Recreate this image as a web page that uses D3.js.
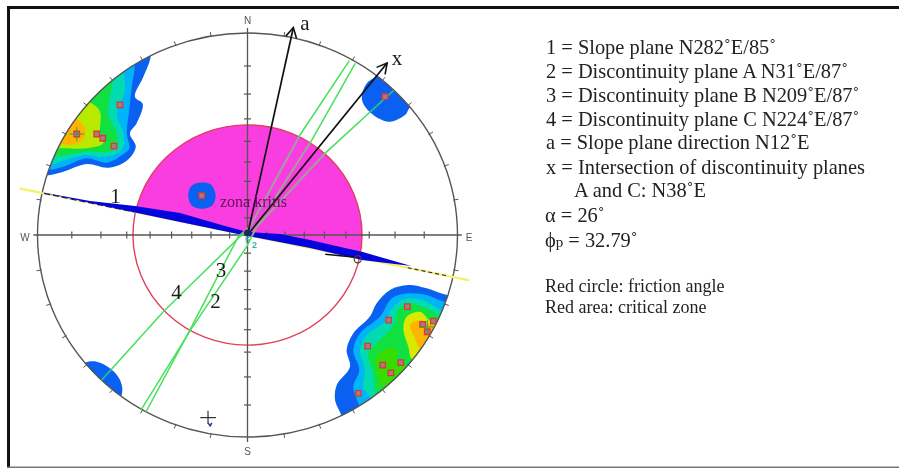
<html>

<head>
    <style>
        body { margin: 0; background: white; }
        svg { filter: blur(0.45px); }
        text { font-family: "Liberation Serif", serif; fill: #222; }
    </style>
</head>

<body>
    <svg id="chart" width="899" height="468"></svg>
</body>
<script src="https://d3js.org/d3.v7.min.js"></script>
<script>
    // All net coordinates are [east, north] in percent of the net radius
    const tickDips = [10, 20, 30, 40, 50, 60, 70, 80]
    const rimAzimuths = [10, 20, 30, 40, 50, 60, 70, 80, 100, 110, 120, 130, 140, 150, 160, 170,
        190, 200, 210, 220, 230, 240, 250, 260, 280, 290, 300, 310, 320, 330, 340, 350]
    const compass = ["N", "E", "S", "W"]

    const slopeStrike = 282
    const frictionAngle = 32.79
    const directions = [
        { name: "a", azimuth: 12, length: 105 },
        { name: "x", azimuth: 38, length: 108 }
    ]

    // discontinuity planes, slightly curved great circles
    const planeA = [[51.3, 85], [30.6, 47], [4.4, 4.1], [-0.4, -5.8], [-26.6, -46.2], [-50.7, -86.6]]
    const planeB = [[48.5, 86.3], [25, 49.5], [1.2, 4.1], [-4.4, -0.8], [-27.4, -47], [-48.3, -87.5]]
    const planeC = [[69.4, 71.4], [36.9, 40.4], [4.4, 4.1], [-3.6, -0.8], [-40.1, -38], [-69.4, -71.8]]

    const slopeWedge = [[-98.8, 21.3], [-75, 16.8], [-53.6, 14.4], [-32.1, 10.9], [-10.7, 4.5], [0, 1.5],
        [15.5, 0.5], [29.8, -2.5], [46.4, -6.4], [54.5, -8.3], [78, -15.4], [54.5, -12.4], [29.8, -6.4], [0, -0.5],
        [-32.1, 6.4], [-53.6, 11.1]]

    // density contours, north west cluster
    const nwBlue = [[-46.1, 88.3], [-49.6, 78.4], [-53.6, 68.5], [-49.9, 64.9], [-52.8, 55.3], [-56, 50.3], [-53.2, 43.7],
        [-57.5, 36.8], [-66.3, 33.3], [-76.6, 35.1], [-87.7, 31.3], [-96, 29.4], [-112, 30], [-112, 100], [-46, 105]]
    const nwSky = [[-53.6, 84.2], [-55.1, 73.4], [-56.3, 61.9], [-57.5, 50.3], [-56.3, 42.9], [-60.7, 38.8], [-67, 35.8],
        [-76.6, 38], [-87.7, 33.8], [-94.9, 32.2], [-112, 32], [-112, 100], [-54, 100]]
    const nwTeal = [[-59.1, 80.8], [-58.3, 71.8], [-62.3, 60.2], [-59.1, 50.3], [-59.1, 43.7], [-63.9, 39.6], [-70.2, 38.8],
        [-78.2, 39.6], [-89.3, 36.3], [-94, 34.7], [-112, 34], [-112, 100], [-59, 95]]
    const nwGreen = [[-63.9, 78], [-65.5, 68.5], [-66.3, 60.2], [-62.3, 50.3], [-62.3, 43.7], [-66.3, 41.2], [-76.6, 41.2],
        [-90.9, 38.8], [-112, 37], [-112, 95], [-64, 90]]
    const nwLime = [[-74.2, 65.2], [-70.2, 61], [-70.2, 50.3], [-68.7, 45.4], [-76.6, 42.9], [-89.3, 42.9], [-105, 42], [-95, 72]]
    const nwOrange = [[-80.6, 56.9], [-77.4, 52.8], [-78.2, 47], [-84.5, 44.6], [-90.1, 45.4], [-102, 48], [-92, 62]]
    const nwPoles = [[-60.7, 64.4], [-81.3, 50], [-71.8, 50], [-68.9, 47.9], [-63.6, 44]]

    // north east cluster
    const neBlue = [[61.2, 78.7], [56.8, 75.1], [54.4, 68.5], [56, 63.5], [62.3, 57.8], [67.9, 56.1], [75, 59.4], [77.7, 63.5], [92, 72], [72, 92]]
    const nePoles = [[65.5, 68.5]]

    // south east cluster
    const seBlue = [[95.1, -29.7], [85.3, -26.4], [76.6, -24.8], [67.9, -27.2], [61.5, -33.8], [58.3, -40.4], [50.4, -48.7],
        [47.2, -56.9], [48.8, -65.2], [42.5, -74.3], [41.7, -81.7], [44.4, -88.6], [52, -110], [112, -65], [112, -30]]
    const seSky = [[94, -33], [85.3, -29.7], [75.8, -28.9], [68.7, -31.3], [63.1, -40.4], [53.6, -48.7], [50.4, -56.9],
        [53.2, -66.8], [50.4, -75.1], [52.8, -83.3], [62, -105], [112, -65], [112, -33]]
    const seTeal = [[92.5, -37.1], [85.3, -33], [76.6, -31.3], [70.2, -34.7], [65.5, -42.9], [56.8, -49.5], [53.6, -56.9],
        [56, -66.8], [55.1, -75.1], [58.3, -80], [70, -100], [112, -65], [112, -37]]
    const seGreen = [[91.7, -39.6], [85.3, -36.3], [76.6, -33.8], [71.8, -37.1], [69.4, -44.6], [63.1, -52], [57.5, -58.6],
        [59.9, -68.5], [60.7, -76.7], [70, -95], [112, -65], [112, -40]]
    const seLime = [[67, -56.1], [61.5, -60.2], [62.3, -70.1], [64.7, -75.9], [75, -82], [82, -70], [71, -61.9], [71, -56.9]]
    const seYellow = [[87.7, -42.9], [82.1, -38], [75.8, -40.4], [74.2, -46.2], [76.6, -55.3], [78.7, -61.9], [102, -62], [104, -45]]
    const seOrange = [[87.7, -44.6], [82.1, -42.1], [77.4, -44.6], [79.8, -51.1], [82.1, -56.1], [102, -57], [104, -46]]
    const sePoles = [[76.1, -35.5], [67.2, -42.1], [57.2, -55], [64.4, -64.4], [73, -63.2], [68.3, -68.3], [52.8, -78.4],
        [83.4, -44.2], [88.5, -42.6], [85.6, -47.9]]

    // south west cluster and the small one inside the critical zone
    const swBlue = [[-77.4, -63.2], [-71.8, -62.7], [-65.5, -66], [-60.7, -71.8], [-59.9, -79.2], [-70, -92], [-92, -72]]
    const midBlue = [[-28.2, 20], [-26.5, 24.5], [-22, 26], [-17.5, 25], [-15.2, 20], [-16.5, 15], [-21.5, 13], [-26.5, 14.5]]
    const midPoles = [[-21.8, 19.5]]

    const legendLines = [
        "1 = Slope plane N282˚E/85˚",
        "2 = Discontinuity plane A N31˚E/87˚",
        "3 = Discontinuity plane B N209˚E/87˚",
        "4 = Discontinuity plane C N224˚E/87˚",
        "a = Slope plane direction N12˚E",
        "x = Intersection of discontinuity planes"
    ]
    const legendNotes = ["Red circle: friction angle", "Red area: critical zone"]

    let svg = d3.select("#chart")

    // The picture is slightly stretched, so x and y get their own range
    let x = d3.scaleLinear().domain([-100, 100]).range([37.5, 457.5])
    let y = d3.scaleLinear().domain([-100, 100]).range([437, 33])

    let polar = (azimuth, r) => [r * Math.sin(azimuth * Math.PI / 180), r * Math.cos(azimuth * Math.PI / 180)]
    // stereographic radius of an angle measured from the centre
    let stereo = a => 100 * Math.tan(a * Math.PI / 360)

    let line = d3.line().x(d => x(d[0])).y(d => y(d[1]))
    let blob = d3.line().x(d => x(d[0])).y(d => y(d[1])).curve(d3.curveCatmullRomClosed.alpha(0.5))

    // page frame
    svg.append("rect").attr("x", 7).attr("y", 6).attr("width", 3).attr("height", 462).attr("fill", "#111")
    svg.append("rect").attr("x", 7).attr("y", 6).attr("width", 892).attr("height", 3).attr("fill", "#111")
    svg.append("rect").attr("x", 7).attr("y", 466.5).attr("width", 892).attr("height", 1.5).attr("fill", "#777")

    let defs = svg.append("defs")
    defs.append("clipPath").attr("id", "net-clip").append("ellipse")
        .attr("cx", x(0)).attr("cy", y(0))
        .attr("rx", x(100) - x(0)).attr("ry", y(0) - y(100))

    let frictionRadius = stereo(90 - frictionAngle)
    let zoneOutline = d3.range(slopeStrike, slopeStrike + 181, 3).map(a => polar(a, frictionRadius))
    defs.append("clipPath").attr("id", "zone-clip").append("path")
        .attr("d", line(zoneOutline) + "Z")
    let blobClip = defs.append("clipPath").attr("id", "blob-clip")
    blobClip.append("path").attr("d", blob(neBlue))
    blobClip.append("path").attr("d", blob(swBlue))

    // critical zone and friction circle
    svg.append("path").attr("d", line(zoneOutline) + "Z").attr("fill", "#fa3de0")
    svg.append("ellipse")
        .attr("cx", x(0)).attr("cy", y(0))
        .attr("rx", x(frictionRadius) - x(0)).attr("ry", y(0) - y(frictionRadius))
        .attr("fill", "none").attr("stroke", "#e0405c").attr("stroke-width", 1.4)

    // contours, outermost first
    const contours = [
        [nwBlue, "#0a60f0"], [nwSky, "#00b4f8"], [nwTeal, "#00dcb0"], [nwGreen, "#10e040"], [nwLime, "#b8ea00"], [nwOrange, "#ffb400"],
        [neBlue, "#0a60f0"],
        [seBlue, "#0a60f0"], [seSky, "#00b4f8"], [seTeal, "#00dcb0"], [seGreen, "#10e040"], [seLime, "#38dc00"], [seYellow, "#d8e800"], [seOrange, "#ffb400"],
        [swBlue, "#0a60f0"], [midBlue, "#0a60f0"]
    ]
    svg.append("g").attr("clip-path", "url(#net-clip)")
        .selectAll("path")
        .data(contours)
        .enter()
        .append("path")
        .attr("d", d => blob(d[0]))
        .attr("fill", d => d[1])

    // net axes with their dip ticks
    let tickRadii = tickDips.map(stereo).flatMap(r => [-r, r])
    let xAxis = d3.axisBottom(x).tickValues(tickRadii).tickFormat("").tickSize(3).tickSizeOuter(0)
    let yAxis = d3.axisLeft(y).tickValues(tickRadii).tickFormat("").tickSize(3).tickSizeOuter(0)
    let xAxisG = svg.append("g").attr("transform", `translate(0,${y(0)})`).call(xAxis)
    xAxisG.selectAll(".tick line").attr("y1", -3.5).attr("y2", 3.5)
    let yAxisG = svg.append("g").attr("transform", `translate(${x(0)},0)`).call(yAxis)
    yAxisG.selectAll(".tick line").attr("x1", -3.5).attr("x2", 3.5)
    svg.selectAll(".domain").remove()
    svg.selectAll(".tick line").attr("stroke", "#555").attr("stroke-width", 1.2)

    let crossLines = [[[-102, 0], [102, 0]], [[0, -102.5], [0, 102.5]]]
    svg.append("g").selectAll("path")
        .data(crossLines)
        .enter()
        .append("path")
        .attr("d", line)
        .attr("stroke", "#555").attr("stroke-width", 1.3)

    // rim of the net
    svg.append("ellipse")
        .attr("cx", x(0)).attr("cy", y(0))
        .attr("rx", x(100) - x(0)).attr("ry", y(0) - y(100))
        .attr("fill", "none").attr("stroke", "#555").attr("stroke-width", 1.4)
    svg.append("g").selectAll("path")
        .data(rimAzimuths)
        .enter()
        .append("path")
        .attr("d", d => line([polar(d, 99.5), polar(d, 102)]))
        .attr("stroke", "#555").attr("stroke-width", 1)

    const compassAnchor = { N: [0, 106], E: [105.5, -1.5], S: [0, -107.5], W: [-106, -1.5] }
    svg.append("g").selectAll("text")
        .data(compass)
        .enter()
        .append("text")
        .attr("x", d => x(compassAnchor[d][0]))
        .attr("y", d => y(compassAnchor[d][1]))
        .attr("text-anchor", "middle")
        .attr("dominant-baseline", "middle")
        .style("font-family", "'Liberation Sans', sans-serif")
        .style("font-size", "10px")
        .style("fill", "#555")
        .text(d => d)

    // slope plane: pale trace, then the blue wedge on top
    svg.append("path")
        .attr("d", line([polar(slopeStrike, 111), polar(slopeStrike + 180, 108)]))
        .attr("stroke", "#f6f070").attr("stroke-width", 2.4).attr("fill", "none")
    svg.append("path")
        .attr("d", line([polar(slopeStrike, 99), polar(slopeStrike, 55)]))
        .attr("stroke", "#10108c").attr("stroke-width", 1.3).attr("stroke-dasharray", "6,3")
    svg.append("path")
        .attr("d", line([polar(slopeStrike + 180, 78), polar(slopeStrike + 180, 98)]))
        .attr("stroke", "#222266").attr("stroke-width", 1.1).attr("stroke-dasharray", "4,3")
    svg.append("path").attr("d", line(slopeWedge) + "Z").attr("fill", "#0404dc")

    // planes, grey where they run over the critical zone, teal over the blue clusters
    let planes = [planeA, planeB, planeC]
    svg.append("g").selectAll("path")
        .data(planes)
        .enter()
        .append("path")
        .attr("d", line)
        .attr("fill", "none").attr("stroke", "#46e05a").attr("stroke-width", 1.5)
    svg.append("g").attr("clip-path", "url(#zone-clip)").selectAll("path")
        .data(planes)
        .enter()
        .append("path")
        .attr("d", line)
        .attr("fill", "none").attr("stroke", "#a89aa0").attr("stroke-width", 1.8)
    svg.append("g").attr("clip-path", "url(#blob-clip)").selectAll("path")
        .data(planes)
        .enter()
        .append("path")
        .attr("d", line)
        .attr("fill", "none").attr("stroke", "#20b0b0").attr("stroke-width", 1.5)

    // poles
    let poles = nwPoles.concat(nePoles, sePoles, midPoles)
    svg.append("g").selectAll("path")
        .data(poles)
        .enter()
        .append("path")
        .attr("transform", d => `translate(${x(d[0])},${y(d[1])})`)
        .attr("d", d3.symbol(d3.symbolSquare, 30))
        .attr("fill", "#a87c7c").attr("stroke", "#d83a3a").attr("stroke-width", 1.3)

    // small pole marks
    const poleMarks = [[-81.3, 50], [85.6, -45.5]]
    svg.append("g").selectAll("path")
        .data(poleMarks)
        .enter()
        .append("path")
        .attr("d", d => `M${x(d[0] - 3.5)},${y(d[1])}H${x(d[0] + 3.5)}M${x(d[0])},${y(d[1] + 3.5)}V${y(d[1] - 3.5)}`)
        .attr("stroke", "#3a9a50").attr("stroke-width", 1).attr("fill", "none")

    // direction arrows
    defs.append("marker").attr("id", "open-arrow")
        .attr("viewBox", "-12 -7 14 14").attr("refX", 0).attr("refY", 0)
        .attr("markerWidth", 14).attr("markerHeight", 14)
        .attr("markerUnits", "userSpaceOnUse").attr("orient", "auto")
        .append("path").attr("d", "M-10,-5.5L0,0L-10,5.5")
        .attr("fill", "none").attr("stroke", "#111").attr("stroke-width", 1.6)
    svg.append("g").selectAll("path")
        .data(directions)
        .enter()
        .append("path")
        .attr("d", d => line([[0, 0], polar(d.azimuth, d.length)]))
        .attr("stroke", "#111").attr("stroke-width", 1.7).attr("fill", "none")
        .attr("marker-end", "url(#open-arrow)")

    // centre of the net
    svg.append("circle").attr("cx", x(0)).attr("cy", y(1)).attr("r", 3.5).attr("fill", "#10305a")

    // angle marker next to the slope trace
    svg.append("path").attr("d", line([[37, -9.5], [51.5, -11]])).attr("stroke", "#111").attr("stroke-width", 1.4)
    svg.append("circle").attr("cx", x(52.5)).attr("cy", y(-12)).attr("r", 3.6)
        .attr("fill", "none").attr("stroke", "#5a3a20").attr("stroke-width", 1.2)

    // stray cross in the lower part of the net
    svg.append("path").attr("d", line([[-22.5, -90.4], [-15, -90.4]])).attr("stroke", "#333").attr("stroke-width", 1.2)
    svg.append("path").attr("d", line([[-18.8, -87], [-18.8, -93.5]])).attr("stroke", "#333").attr("stroke-width", 1.2)
    svg.append("path").attr("d", line([[-18.8, -93], [-17.8, -94.5], [-17, -93]])).attr("stroke", "#223399").attr("stroke-width", 1.5).attr("fill", "none")

    // labels on the net
    const netLabels = [["1", 115.5, 203], ["3", 221, 277], ["4", 176.5, 299], ["2", 215.5, 308], ["a", 305, 30], ["x", 397, 65]]
    svg.append("g").selectAll("text")
        .data(netLabels)
        .enter()
        .append("text")
        .attr("x", d => d[1])
        .attr("y", d => d[2])
        .attr("text-anchor", "middle")
        .style("font-size", "21px")
        .style("fill", "#1a1a1a")
        .text(d => d[0])
    svg.append("text").attr("x", 220).attr("y", 207)
        .style("font-size", "16px").style("fill", "#5c1458")
        .text("zona kritis")
    svg.append("text").attr("x", 245).attr("y", 243)
        .style("font-family", "'Liberation Sans', sans-serif").style("font-size", "9px").style("font-weight", "bold").style("fill", "#35b890")
        .text("5")
    svg.append("text").attr("x", 252).attr("y", 248)
        .style("font-family", "'Liberation Sans', sans-serif").style("font-size", "9px").style("font-weight", "bold").style("fill", "#35b890")
        .text("2")

    // legend
    let legendBaselines = [54, 78, 102, 126, 149, 174]
    let legend = svg.append("g").style("font-size", "20.4px")
    legend.selectAll("text.line")
        .data(legendLines)
        .enter()
        .append("text")
        .attr("class", "line")
        .attr("x", 546)
        .attr("y", (d, i) => legendBaselines[i])
        .text(d => d)
    legend.append("text").attr("x", 574).attr("y", 197).text("A and C: N38˚E")
    legend.append("text").attr("x", 545).attr("y", 222).text("α = 26˚")
    let phi = legend.append("text").attr("x", 545).attr("y", 247)
    phi.append("tspan").text("ϕ")
    phi.append("tspan").style("font-size", "15px").text("p")
    phi.append("tspan").text(" = 32.79˚")

    svg.append("g").style("font-size", "18px").selectAll("text")
        .data(legendNotes)
        .enter()
        .append("text")
        .attr("x", 545)
        .attr("y", (d, i) => 292 + i * 21)
        .text(d => d)
</script>

</html>
